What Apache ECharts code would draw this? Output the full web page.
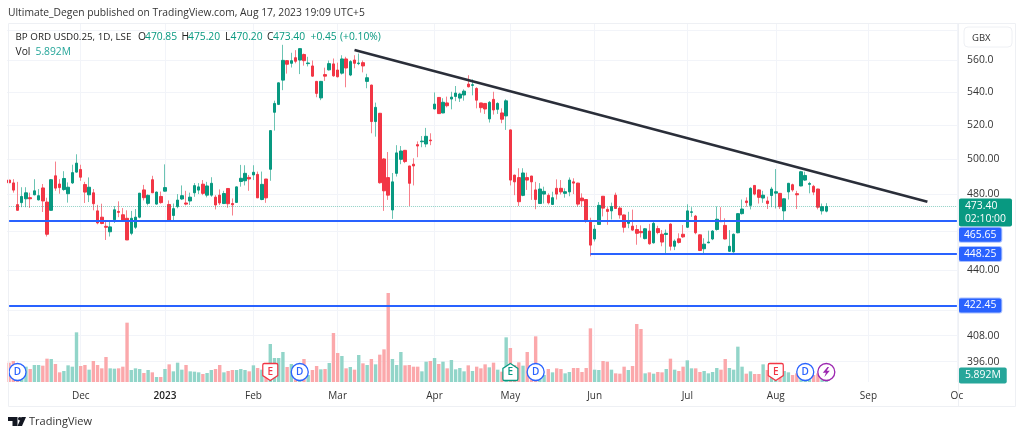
<!DOCTYPE html>
<html>
<head>
<meta charset="utf-8">
<title>BP ORD USD0.25</title>
<style>
html,body{margin:0;padding:0;background:#fff}
#chart{width:1024px;height:437px}
</style>
<script src="https://cdn.jsdelivr.net/npm/echarts@6/dist/echarts.min.js"></script>
</head>
<body>
<div id="chart"></div>
<script>
// daily candles
const opens = [
488,486.4,474.4,475.5,477.6,478.2,479.8,477,483.6,475.8,
471.3,490.4,485.8,482.7,480.4,486.4,492.5,494,485.5,479.8,
480.9,471,467.6,462.7,459.8,466.2,470.7,468.9,467,459,
462.2,467.6,482.5,475.1,488.2,474.7,478.9,481.8,474.5,468.5,
473.3,477.5,475.3,476.4,480.9,482.4,485.7,479.6,479.6,478.5,
479.6,475,483.3,475,475.6,487.2,487.6,489.5,490.9,491.2,
477.2,488.6,494.1,527.6,532.4,547.5,559.9,558.2,561.8,560.3,
563.9,558,556.5,546.7,536.4,551,554,557.8,553.9,551.9,
561,550.7,560.3,558,558.6,546.7,544.4,522,527,500,
489.4,471.5,491.8,499.8,505,496,497,508.3,510,508.7,
511,529.6,536.7,527.2,533.3,535.7,537.3,536.3,538.2,545,
544.2,542.3,533.3,533,523.6,535.5,529.4,527.2,525.4,517,
490.8,489.4,479.5,489.4,490.3,482.5,475,480.2,479.5,474.5,
483.4,483.4,480.6,481.4,487,486.3,478,477.2,465.7,456,
463.7,479,471.8,471,479.6,472.5,468.8,464.3,462.8,461,
460,456.2,460.2,454,461.5,458.5,458.4,463.9,452.2,456.1,
458.5,462.2,470.2,468.2,458.2,450.9,454,456,461,465.7,
463.2,449.6,449.3,459.3,469.5,476.4,474,485,482.5,478,
476.4,479.4,480.7,480.6,471,481.4,485.4,480.4,484.7,488,
485.6,484.5,483,471,470.85
];
const highs = [
497.6,488.5,487,484,484,481,488.5,483,485.8,478.2,
488.5,498.5,488.5,493,486.7,496.7,502.7,496.7,487,489.5,
483,474.3,474.9,465.8,465.8,473.6,476.2,472.5,471.3,471,
472,480.7,485.3,480,490.4,481.6,481.6,496.9,476.7,475,
480.2,485,482,481,486.3,486.3,488,487,489.6,479.6,
482.8,482,483.3,477.8,484.4,496.6,496.4,490.9,496.4,492.8,
492.8,488.6,516.8,534.7,546,570.2,560.3,565,566.7,567.7,
564.5,562.4,560,547,547,555.4,560,561.3,558.6,563.4,
562.4,560.3,563.4,564.5,560,551.5,544.6,533.5,527.2,500.4,
504,492,508,507.5,505.2,496,500.4,510.2,513.4,518.2,
515,539.8,536.9,536.2,537.2,540.2,543.8,539.6,541.7,550.6,
548,543,533.3,533,534.5,540.2,533.7,530,535.6,517.2,
491,494.7,494.7,492.2,490.3,487,486.3,484.3,480.6,481.5,
488.4,488,483.4,489.5,489,486.5,480.6,477.4,467.3,463.4,
475.8,479,473,475.5,481,473.4,469,470.5,471.7,463.4,
463.2,461.8,464,465,463,460.7,461,464.3,455.8,459,
463.4,474.6,473,468.8,458.4,456.4,460.4,460.7,473.4,473,
467,460.7,458.9,469.7,477.2,478.4,484,485.2,482.8,482,
478.8,484.2,494.2,480.8,477.8,486.4,486,482,493.2,492.7,
487,485.3,483.2,475,475.2
];
const lows = [
485.8,481,471.3,473,473,472.6,479.5,476.7,470.4,457.3,
471.3,482,480.4,482,475.5,485.8,492.2,487.6,475.3,475.8,
471.3,463.8,463.8,455.5,457.3,464.5,467.6,465.3,455.5,458,
461.3,467,476.7,474,480.9,474.4,474.9,481.6,465.6,465.8,
472.4,476.9,474,474.2,478.7,480.2,479.6,478.4,478.7,471.8,
474.2,474.7,472.7,468.5,475.4,484.3,485,482,488,478.1,
476.8,475.4,487.6,516.6,532,541.2,551.6,555.5,558.2,551.3,
556.7,556.2,549.6,536.8,535,547,553.6,549.6,549.2,551,
543,550,555,557,552.4,542.4,515,513,486,471,
477,466.7,490,497,497.6,473.6,485,501,506.8,506.8,
508,529.4,526.6,527,530.6,529.4,534.4,533.9,534.7,542.9,
538,530,527.4,526.6,521.4,526.2,526.6,521,517,485,
479.6,473.6,479,482.5,477,471.9,475,475,474.5,474.3,
477.2,480,478.2,479,480.2,473.3,473.3,464.6,447,454.7,
463.4,468,463.5,466.4,472,466.8,459.4,461.7,460.4,453,
456.8,455.8,453,453.6,458.5,452.2,448.2,450,450.2,453.6,
456.6,461.8,467.8,458.5,449.7,448.2,453.8,455.4,460.4,465,
455.8,449.3,448.9,459,469,473.3,471.8,479.5,475,475.4,
472,473,472.3,472,465.5,477.2,481.5,472,484.5,487.6,
480.6,479.6,471.8,469,470.2
];
const closes = [
486.5,482.4,471.3,478.9,480.9,477.6,482,479.3,476.4,458.5,
488.2,483.5,483.8,488.9,484,492.2,497.6,489.6,481.3,484,
474.9,464.5,464.2,462.2,462.4,471.6,470.2,465.8,455.5,467,
467.6,480.7,478.2,479.5,480.9,481.3,475.5,483.8,466,472.2,
476.9,479.3,474.7,478.5,484.9,484.2,480.6,484.7,486.2,474.2,
475.3,480.5,474.9,474.3,484.2,489,491.8,488.6,492.4,478.1,
485.6,478.1,516.6,533,545.8,560.1,557.6,559.9,559.5,567.7,
559.9,558.4,550,539.2,546.7,550,558,550.2,549.6,561,
555.2,559.3,558.2,558.4,556.5,549,522,530.6,486.5,482,
479.6,487,503.5,504.6,498.5,486.2,496,507.5,510.4,513.2,
510.6,532.6,526.8,533.7,531.6,536.9,539.4,538.8,540.6,543.3,
544.6,535,530.4,529.6,533.7,529,533,523.4,534.6,488,
487,476,492,488,487,477.2,483,481.7,475.4,478.2,
480.2,481.4,481.5,488,486.3,474.7,476.5,466,452.8,461.2,
474,472.5,470.7,473.4,472.3,468.8,462.2,465.2,460.7,459,
459.3,461.4,453.5,464.3,459.4,454.4,459,452.2,454.9,454.2,
457.1,471,470.5,459.3,450,453.3,454.4,460.2,466.5,465.2,
456,452.2,458.5,469.5,472,475.5,483.4,480.2,478.4,479.6,
475,483,481.5,473.3,477.6,486.2,482.5,479.8,492.7,490.6,
486.1,481.3,473,473.3,473.4
];
// volume in millions
const volumes = [
17.4,18.9,12.3,8.7,13.8,11.7,15.3,15.3,14.7,21,
20.7,16.2,8.7,9.9,15,13.8,44.7,14.4,15.3,11.1,
18.9,15.3,12.3,22.5,12.3,12,12.3,13.8,53.4,10.8,
12.3,11.7,8.1,10.8,8.7,4.5,4.5,11.7,15.9,9.6,
17.4,11.1,15.3,9.6,9.3,8.7,7.2,8.1,10.8,11.7,
15.3,8.7,9.9,10.8,10.8,11.7,10.8,9.6,15,12.6,
11.1,9.3,34.2,21.6,21.6,27,13.5,16.2,15.3,16.8,
20.7,6.3,10.8,14.4,11.4,11.7,17.1,44.1,26.1,23.4,
12.3,13.5,11.1,24.3,16.8,15.3,20.7,15.9,24.6,29.4,
80.1,20.7,15.3,27,15,15.3,13.8,13.8,9.6,18.3,
18.9,21.6,16.2,18.3,12.3,19.8,11.4,12.6,9.6,15,
9.9,13.8,12.3,15.9,13.2,17.4,11.1,9.3,40.2,30.6,
15.3,17.7,14.7,27,10.8,41.1,7.8,6.3,11.7,8.7,
12.3,11.7,7.8,9,12.6,12.6,9,12.6,48.3,11.1,
10.8,18.9,18.3,11.1,7.8,7.5,13.8,10.8,14.4,52.2,
47.7,7.8,8.7,7.5,9,8.7,11.7,21,11.1,9.9,
13.8,19.5,12.3,12.3,9,9.9,7.8,9,12.6,11.1,
20.7,12.6,11.1,31.8,13.8,7.5,9.6,7.2,7.2,15.9,
10.8,6.3,7.8,4.8,9.9,8.7,6.3,7.8,4.8,3.9,
4.8,6.3,7.8,3.9,5.892
];

const slotCount = 226; // bars plus the empty space up to the price scale
const tickSlots = [17,37,58,78,101,119,139,161,182,204,225];
const tickNames = ['Dec','2023','Feb','Mar','Apr','May','Jun','Jul','Aug','Sep','Oc'];

const priceTicks = [580,560,540,520,500,480,460,440,420,408,396];
const priceNames = ['','560.0','540.0','520.0','500.00','480.00','','440.00','','408.00','396.00'];

const lastPrice = 473.4;
const levelPrices = [465.65,448.25,422.45];
const levelStart = [0,138,0];
const levelShift = [14,0,0];
const trendSlots = [81.6,218.4];
const trendPrices = [566.8,476];

const eventSlots = [2,62,69,119,125,182,189];
const eventKinds = ['D','Es','D','Eb','D','Es','D'];
const boltSlot = 194;
const eventLevel = 9;

const GREEN = '#089981', RED = '#f23645', BLUE = '#2962ff', GRID = '#f2f4f9';
const FONT = '"Open Sans", sans-serif';

const myCharts = echarts.init(document.getElementById('chart'), null, {renderer:'canvas'});

const slots = Array.from({length:slotCount},(_,i)=>String(i));
const isTick = (i)=>tickSlots.indexOf(i)>=0;

function txt(x,y,text,fill,size,weight){
    return {type:'text',x:x,y:y,z:50,silent:true,style:{text:text,fill:fill,font:(weight||'normal')+' '+(size||10.3)+'px '+FONT,textVerticalAlign:'middle'}};
}
function poly(points,fill){
    return {type:'polygon',z:50,silent:true,shape:{points:points},style:{fill:fill}};
}

const badge = {position:'end',distance:2,color:'#fff',fontFamily:FONT,fontSize:10.4,backgroundColor:BLUE,borderColor:'#a9c0ff',borderWidth:1,borderRadius:2,padding:[2,5,2,5]};

const levelLines = levelPrices.map((p,i)=>([
    {coord:[levelStart[i],p],lineStyle:{color:BLUE,width:2,type:'solid'},label:Object.assign({},badge,{formatter:p.toFixed(2),offset:[0,levelShift[i]]})},
    {coord:[slotCount-1,p]}
]));

const eventPoints = eventSlots.map((s,i)=>{
    const k = eventKinds[i];
    if(k==='D') return {coord:[s,eventLevel],symbol:'circle',symbolSize:17,itemStyle:{color:'#fff',borderColor:BLUE,borderWidth:1.3},label:{show:true,formatter:'D',color:BLUE,fontSize:10,fontFamily:FONT,fontWeight:600}};
    const down = k==='Es';
    const col = down?RED:GREEN;
    return {coord:[s,eventLevel],
        symbol:down?'path://M2 0H18Q20 0 20 2V15L10 21L0 15V2Q0 0 2 0Z':'path://M10 0L20 6V19Q20 21 18 21H2Q0 21 0 19V6Z',
        symbolSize:[15,17],itemStyle:{color:'#fff',borderColor:col,borderWidth:1.3},label:{show:true,formatter:'E',color:col,fontSize:10,fontFamily:FONT,fontWeight:600}};
});
eventPoints.push({coord:[boltSlot,eventLevel],symbol:'circle',symbolSize:17,itemStyle:{color:'#fff',borderColor:'#9c27b0',borderWidth:1.3}});
eventPoints.push({coord:[boltSlot,eventLevel],symbol:'path://M6 0L0 7H4L2 12L9 4.5H5L8 0Z',symbolSize:[7,10],itemStyle:{color:'#9c27b0',borderWidth:0}});

const option = {
    animation:false,
    backgroundColor:'#fff',
    grid:[
        {left:7,top:23,width:952,height:359},
        {left:7,top:282,width:952,height:100}
    ],
    xAxis:[
        {type:'category',gridIndex:0,data:slots,boundaryGap:true,axisLine:{show:false},axisTick:{show:false},
            axisLabel:{interval:(i)=>isTick(i),margin:9,color:'#333',fontFamily:FONT,fontSize:10,
                formatter:(v,i)=>{const n=tickNames[tickSlots.indexOf(i)];return n==='2023'?'{b|2023}':n;},
                rich:{b:{fontWeight:600,color:'#222',fontFamily:FONT,fontSize:10}}},
            splitLine:{show:true,alignWithLabel:true,interval:(i)=>isTick(i),lineStyle:{color:GRID,width:1}}},
        {type:'category',gridIndex:1,data:slots,axisLine:{show:false},axisTick:{show:false},axisLabel:{show:false},splitLine:{show:false}}
    ],
    yAxis:[
        {type:'log',logBase:10,gridIndex:0,position:'right',min:386.8,max:584.7,
            axisLine:{show:false},
            axisTick:{show:false,customValues:priceTicks},
            axisLabel:{customValues:priceTicks,margin:8,padding:[3,0,0,0],color:'#333',fontFamily:FONT,fontSize:10.4,
                formatter:(v)=>{const i=priceTicks.findIndex(t=>Math.abs(t-v)<0.01);return i>=0?priceNames[i]:'';}},
            splitLine:{show:true,lineStyle:{color:GRID,width:1}},minorSplitLine:{show:false}},
        {type:'value',gridIndex:1,min:0,max:90,show:false,splitLine:{show:false}}
    ],
    series:[
        {type:'bar',name:'Vol',xAxisIndex:1,yAxisIndex:1,barWidth:3.4,z:2,
            data:volumes.map((v,i)=>({value:v,itemStyle:{color:closes[i]>=opens[i]?'#92d5c9':'#fba8ab'}})),
            markPoint:{silent:true,animation:false,z:8,data:eventPoints},
            markLine:{silent:true,animation:false,symbol:'none',z:9,data:[
                [{coord:[0,volumes[volumes.length-1]],lineStyle:{width:1,color:'rgba(0,0,0,0)'},
                  label:Object.assign({},badge,{formatter:'5.892M',backgroundColor:'#26a69a',borderColor:'#26a69a',borderWidth:0,padding:[3,6,3,6],distance:2})},
                 {coord:[slotCount-1,volumes[volumes.length-1]]}]
            ]}},
        // wicks first, in the paler tone, the bodies go over them
        {type:'candlestick',name:'BP wick',xAxisIndex:0,yAxisIndex:0,barWidth:1,z:3,
            data:opens.map((o,i)=>[o,closes[i],lows[i],highs[i]]),
            itemStyle:{color:'#6cc4b3',color0:'#f7818c',borderColor:'#6cc4b3',borderColor0:'#f7818c',borderWidth:1}},
        {type:'candlestick',name:'BP',xAxisIndex:0,yAxisIndex:0,barWidth:3,z:4,
            data:opens.map((o,i)=>[o,closes[i],Math.min(o,closes[i]),Math.max(o,closes[i])]),
            itemStyle:{color:GREEN,color0:RED,borderColor:GREEN,borderColor0:RED,borderWidth:1},
            markLine:{silent:true,animation:false,symbol:'none',z:6,data:[
                [{coord:[0,lastPrice],lineStyle:{color:'rgba(8,153,129,0.45)',width:1,type:'dotted'},
                  label:{position:'end',distance:2,offset:[0,6],color:'#fff',fontFamily:FONT,fontSize:10.4,lineHeight:13,backgroundColor:GREEN,borderRadius:2,padding:[1,6,1,6],formatter:'473.40\n02:10:00'}},
                 {coord:[slotCount-1,lastPrice]}],
                ...levelLines,
                [{coord:[trendSlots[0],trendPrices[0]],lineStyle:{color:'#2a2e39',width:2.6,type:'solid'},label:{show:false}},
                 {coord:[trendSlots[1],trendPrices[1]]}]
            ]}}
    ],
    graphic:[
        {type:'rect',z:40,silent:true,shape:{x:8.5,y:23.5,width:1007,height:383},style:{fill:'none',stroke:'#eef0f4',lineWidth:1}},
        {type:'line',z:40,silent:true,shape:{x1:958.5,y1:23.5,x2:958.5,y2:406.5},style:{stroke:'#eef0f4',lineWidth:1}},
        {type:'rect',z:41,silent:true,shape:{x:964,y:27,width:48,height:20,r:4},style:{fill:'#fff',stroke:'#eef0f4',lineWidth:1}},
        txt(972,38,'GBX','#333',9.5),
        txt(8,13.5,'Ultimate_Degen published on TradingView.com, Aug 17, 2023 19:09 UTC+5','#333',10.3),
        txt(15.5,37.5,'BP ORD USD0.25, 1D, LSE','#222',9.8),
        txt(138,37.5,'O','#222'),txt(145,37.5,'470.85',GREEN),
        txt(181.5,37.5,'H','#222'),txt(188,37.5,'475.20',GREEN),
        txt(225,37.5,'L','#222'),txt(230.5,37.5,'470.20',GREEN),
        txt(267,37.5,'C','#222'),txt(273,37.5,'473.40',GREEN),
        txt(310.5,37.5,'+0.45',GREEN),txt(340,37.5,'(+0.10%)',GREEN),
        txt(15.5,52,'Vol','#222'),txt(35.5,52,'5.892M','#26a69a'),
        poly([[8,417],[17.5,417],[17.5,426],[12.5,426],[12.5,421],[8,421]],'#131722'),
        {type:'circle',z:50,silent:true,shape:{cx:19.8,cy:418.7,r:1.8},style:{fill:'#131722'}},
        poly([[21.5,417],[26,417],[22,426],[17.5,426]],'#131722'),
        txt(29,421.5,'TradingView','#333',11)
    ]
};

myCharts.setOption(option);
</script>
</body>
</html>
